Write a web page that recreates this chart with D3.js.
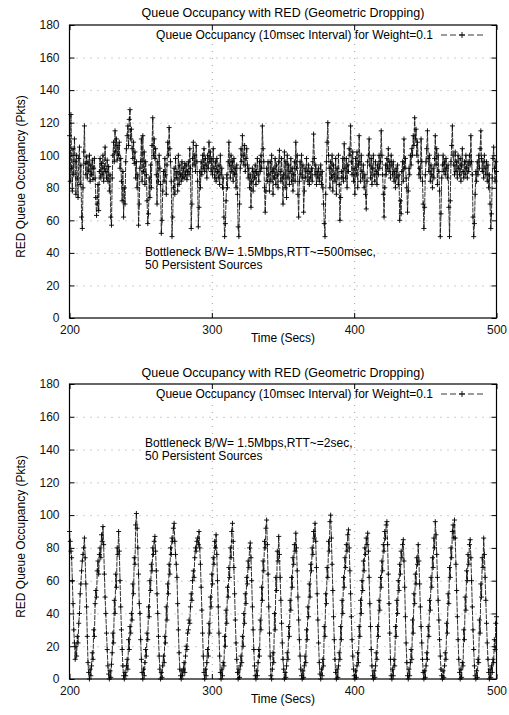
<!DOCTYPE html>
<html>
<head>
<meta charset="utf-8">
<script src="https://cdn.jsdelivr.net/npm/d3@7"></script>
<style>
  body { margin: 0; background: #fff; }
  svg { display: block; font-family: "Liberation Sans", Arial, sans-serif; }
  .tick text { font-size: 12px; fill: #111; }
</style>
</head>
<body>
<svg id="chart"></svg>
<script>
var svg_width = 509
var svg_height = 715

// time axis: 200..500 s, one sample every 0.5 s
var timeStart = 200
var timeStep = 0.5
var xTicks = [200, 300, 400, 500]
var yTicks = [0, 20, 40, 60, 80, 100, 120, 140, 160, 180]

var titleText = "Queue Occupancy with RED (Geometric Dropping)"
var legendText = "Queue Occupancy (10msec Interval) for Weight=0.1"
var xLabel = "Time (Secs)"
var yLabel = "RED Queue Occupancy (Pkts)"
var notesTop = ["Bottleneck B/W= 1.5Mbps,RTT~=500msec,", "50 Persistent Sources"]
var notesBottom = ["Bottleneck B/W= 1.5Mbps,RTT~=2sec,", "50 Persistent Sources"]

// RTT ~ 500 msec
var queueTop = [
  112,84,125,92,78,104,88,110,96,76,100,86,74,98,105,82,94,62,55,80,
  102,118,95,88,99,86,96,90,100,84,94,88,97,85,92,98,86,74,63,70,
  82,66,90,98,86,95,88,100,84,92,105,90,86,97,84,93,78,88,62,57,
  86,100,108,96,115,102,110,97,106,100,108,92,98,84,72,90,62,80,70,96,
  104,112,118,106,122,128,110,116,104,98,108,95,102,86,96,80,88,57,70,92,
  96,110,84,112,90,102,82,96,88,72,58,64,86,74,94,80,106,123,100,110,
  98,104,88,70,96,84,100,92,82,52,60,78,90,84,98,88,76,94,108,100,
  117,104,96,84,50,62,80,92,76,98,86,90,78,100,82,94,88,84,96,86,
  92,86,95,88,94,85,90,96,88,104,92,55,70,98,108,94,100,90,106,96,
  84,56,68,90,80,96,88,100,92,104,90,98,94,86,100,92,108,96,102,90,
  98,88,104,92,86,96,84,98,90,86,94,82,100,88,92,80,86,62,50,58,
  72,88,80,96,108,94,86,100,90,96,84,98,88,92,80,94,76,56,50,70,
  92,104,96,112,100,94,106,90,98,104,94,86,92,80,88,68,84,92,78,90,
  86,94,82,90,98,88,84,96,90,100,92,118,104,96,80,65,78,92,84,96,
  88,78,96,84,100,90,76,92,86,98,82,94,88,80,96,103,90,84,98,86,
  70,88,102,80,96,74,100,86,94,82,90,98,84,92,78,88,96,84,108,92,
  100,76,62,84,96,88,100,86,94,65,78,92,86,98,90,84,94,82,90,86,
  92,84,96,113,98,88,94,82,90,86,92,84,88,94,82,90,80,70,58,50,
  76,96,108,120,100,92,80,96,86,100,78,94,88,84,98,76,92,86,100,82,
  60,74,90,86,98,84,107,92,86,98,80,94,90,104,100,118,96,88,102,84,
  92,76,98,88,102,80,94,112,96,84,100,90,86,94,80,88,76,67,84,96,
  100,110,94,86,98,82,92,100,88,84,96,90,82,94,88,100,92,96,115,100,
  88,76,62,80,94,88,98,92,104,90,96,86,100,94,88,96,84,90,80,92,
  86,94,82,88,60,72,64,90,96,84,110,92,98,86,80,65,78,92,88,100,
  94,104,100,112,106,123,110,116,100,108,96,88,92,86,110,96,84,70,55,68,
  88,96,104,115,98,90,100,84,94,88,80,92,86,98,112,94,104,82,100,90,
  78,50,64,86,94,100,90,96,88,98,92,86,94,68,50,72,96,106,118,100,
  94,88,102,90,96,86,100,92,88,98,84,94,104,90,86,96,88,100,92,86,
  96,90,100,94,112,96,88,62,50,58,76,90,84,96,88,100,92,104,115,98,
  90,96,86,100,92,88,96,84,94,80,88,70,55,64,86,98,105,92,84,96,
  90
]

// RTT ~ 2 sec
var queueBottom = [
  90,84,78,74,60,46,30,22,12,20,14,26,22,34,40,52,58,66,72,76,
  80,86,74,58,44,26,10,4,0,6,2,8,16,12,30,26,46,54,50,66,
  72,64,76,80,74,88,84,93,82,64,50,40,28,18,8,3,0,5,1,9,
  16,28,22,48,40,64,56,80,76,90,78,60,44,30,18,8,2,0,4,2,
  8,12,6,24,18,32,28,40,36,58,52,74,70,94,101,92,80,64,46,40,
  24,12,4,0,6,2,10,18,14,28,24,44,38,60,54,70,66,80,76,84,
  87,78,66,52,40,26,14,6,0,4,1,8,14,10,26,22,44,36,58,52,
  70,64,80,76,86,84,92,95,84,76,70,62,46,30,16,6,2,0,5,2,
  6,10,4,14,20,18,28,30,36,34,44,52,48,60,66,62,74,80,78,84,
  86,82,90,80,70,56,42,28,14,4,0,6,2,10,18,14,34,28,50,44,
  64,58,74,70,84,80,88,76,60,44,28,14,4,0,6,2,10,8,26,20,
  42,34,56,50,68,62,80,74,90,95,84,68,52,36,22,12,4,0,6,1,
  8,14,10,26,20,40,34,52,46,62,58,72,68,80,83,74,60,44,30,18,
  8,2,0,5,2,10,18,14,36,30,56,48,72,66,84,80,92,97,82,64,
  44,28,14,2,0,6,16,10,40,30,62,54,78,72,87,76,62,48,34,22,
  12,6,0,4,1,8,16,12,32,26,48,42,62,56,74,70,82,78,89,80,
  66,50,36,24,14,6,2,0,5,1,8,14,10,30,24,44,38,58,50,70,
  66,80,76,90,86,95,84,68,52,36,22,10,3,0,6,2,12,8,32,26,
  52,46,68,62,84,78,96,100,86,70,54,38,24,12,4,0,6,1,8,16,
  12,32,24,48,40,62,56,74,68,82,78,88,91,80,66,52,38,24,14,6,
  2,0,5,1,8,16,10,32,26,48,40,60,54,72,66,80,76,86,82,89,
  78,62,46,32,18,8,2,0,5,1,8,16,12,32,26,48,42,62,56,72,
  66,82,78,90,86,94,96,82,64,46,28,12,2,0,6,2,12,8,32,26,
  48,40,60,54,70,64,78,74,82,85,72,56,38,22,10,2,0,6,2,10,
  18,12,36,28,52,46,64,58,74,70,82,72,58,44,32,22,12,4,0,5,
  1,8,16,12,32,26,48,42,62,56,74,68,86,80,96,88,76,62,48,36,
  24,14,6,2,0,5,1,8,16,12,34,28,52,46,68,62,80,74,90,94,
  86,97,86,70,54,38,24,12,4,0,6,1,10,8,30,24,50,42,66,60,
  76,70,82,85,74,60,44,30,18,8,2,0,5,1,12,10,36,28,58,50,
  74,68,86,76,62,48,34,22,12,4,0,6,1,8,4,12,10,24,18,34,
  38
]

var plotLeft = 69.5
var plotRight = 496.5

var svg = d3.select("#chart")
    .attr("width", svg_width)
    .attr("height", svg_height)

var xScale = d3.scaleLinear()
               .domain([200, 500])
               .range([plotLeft, plotRight])

function plusPath(pts, h) {
    return pts.map(function(p) {
        return "M" + (p[0] - h) + "," + p[1] + "H" + (p[0] + h) +
               "M" + p[0] + "," + (p[1] - h) + "V" + (p[1] + h);
    }).join("");
}

function drawPanel(series, top, bottom, titleY, notes, notesY) {
    var yScale = d3.scaleLinear()
                   .domain([0, 180])
                   .range([bottom, top])
    var width = plotRight - plotLeft
    var height = bottom - top

    // dotted grid
    svg.append("g")
        .attr("transform", "translate(" + plotLeft + ",0)")
        .call(d3.axisLeft(yScale).tickValues(yTicks.slice(1, -1))
                .tickSize(-width).tickFormat(""))
        .call(function(g) { g.select(".domain").remove(); })
        .selectAll("line")
          .attr("stroke", "#888")
          .attr("stroke-width", 0.8)
          .attr("stroke-dasharray", "1,6")

    svg.append("g")
        .attr("transform", "translate(0," + bottom + ")")
        .call(d3.axisBottom(xScale).tickValues([300, 400])
                .tickSize(-height).tickFormat(""))
        .call(function(g) { g.select(".domain").remove(); })
        .selectAll("line")
          .attr("stroke", "#888")
          .attr("stroke-width", 0.8)
          .attr("stroke-dasharray", "1,6")

    var pts = series.map(function(v, i) {
        return [xScale(timeStart + i * timeStep), yScale(v)];
    })

    // connecting line
    svg.append("path")
        .datum(series)
        .attr("fill", "none")
        .attr("stroke", "#1a1a1a")
        .attr("stroke-width", 0.9)
        .attr("stroke-dasharray", "5,1")
        .attr("d", d3.line()
            .x(function(d, i) { return xScale(timeStart + i * timeStep); })
            .y(function(d) { return yScale(d); }))

    // + markers
    svg.append("path")
        .attr("fill", "none")
        .attr("stroke", "#000")
        .attr("stroke-width", 0.9)
        .attr("d", plusPath(pts, 2.5))

    // axes, ticks inside on all four sides
    svg.append("g")
        .attr("transform", "translate(" + plotLeft + ",0)")
        .call(d3.axisLeft(yScale).tickValues(yTicks).tickSize(-5).tickPadding(10))
    svg.append("g")
        .attr("transform", "translate(" + plotRight + ",0)")
        .call(d3.axisRight(yScale).tickValues(yTicks).tickSize(-5).tickFormat(""))
    svg.append("g")
        .attr("transform", "translate(0," + bottom + ")")
        .call(d3.axisBottom(xScale).tickValues(xTicks).tickSize(-5).tickPadding(7))
    svg.append("g")
        .attr("transform", "translate(0," + top + ")")
        .call(d3.axisTop(xScale).tickValues(xTicks).tickSize(-5).tickFormat(""))

    svg.selectAll(".domain").attr("stroke", "none")
    svg.append("rect")
        .attr("x", plotLeft)
        .attr("y", top)
        .attr("width", width)
        .attr("height", height)
        .attr("fill", "none")
        .attr("stroke", "#000")
        .attr("stroke-width", 1.2)

    // title
    svg.append("text")
        .attr("x", 283)
        .attr("y", titleY)
        .attr("text-anchor", "middle")
        .attr("font-size", "12.5px")
        .text(titleText)

    // legend
    svg.append("text")
        .attr("x", 433)
        .attr("y", top + 14)
        .attr("text-anchor", "end")
        .attr("font-size", "12px")
        .text(legendText)
    svg.append("line")
        .attr("x1", 441).attr("x2", 483)
        .attr("y1", top + 10).attr("y2", top + 10)
        .attr("stroke", "#222")
        .attr("stroke-width", 0.9)
        .attr("stroke-dasharray", "6,3")
    svg.append("path")
        .attr("fill", "none")
        .attr("stroke", "#000")
        .attr("stroke-width", 0.9)
        .attr("d", plusPath([[462, top + 10]], 3))

    // annotation, one text per line
    notes.forEach(function(line, i) {
        svg.append("text")
            .attr("x", 145)
            .attr("y", notesY + i * 12.5)
            .attr("font-size", "12px")
            .text(line)
    })

    // axis labels
    svg.append("text")
        .attr("x", 283)
        .attr("y", bottom + 24)
        .attr("text-anchor", "middle")
        .attr("font-size", "12px")
        .text(xLabel)
    svg.append("text")
        .attr("transform", "rotate(-90)")
        .attr("x", -((top + bottom) / 2 + 5))
        .attr("y", 25)
        .attr("text-anchor", "middle")
        .attr("font-size", "12px")
        .text(yLabel)
}

drawPanel(queueTop, 25, 318, 17, notesTop, 256)
drawPanel(queueBottom, 384, 679, 377, notesBottom, 447)
</script>
</body>
</html>
